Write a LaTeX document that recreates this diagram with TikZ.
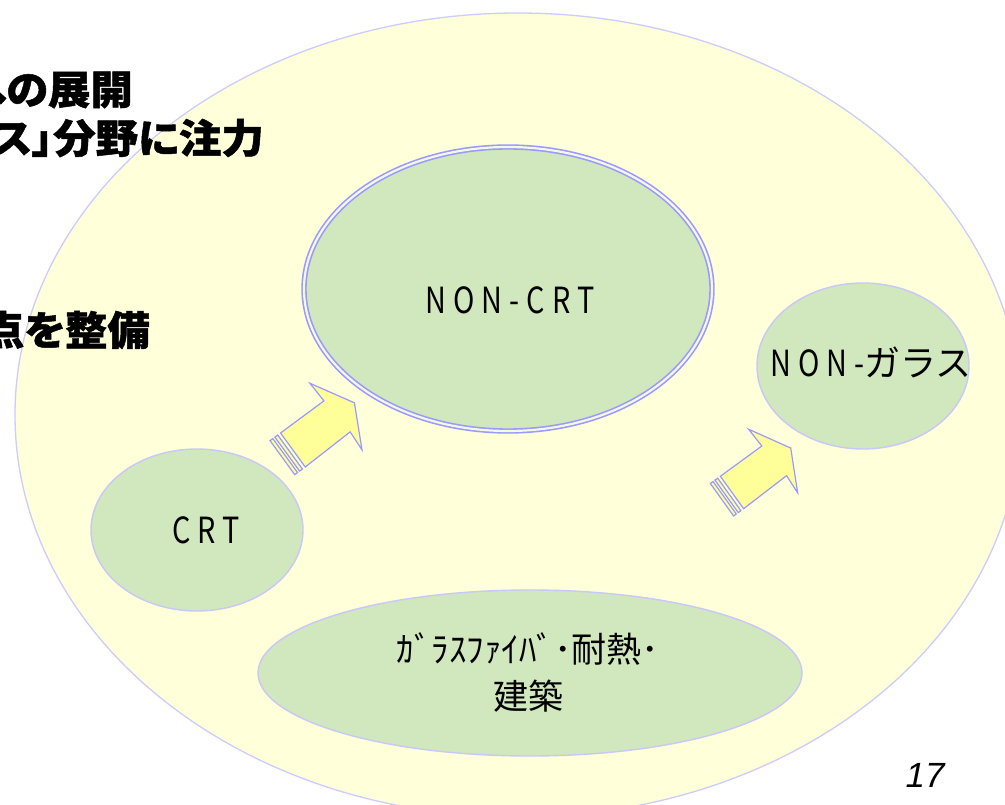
\documentclass[tikz,border=0pt]{standalone}
\usepackage{fontspec}
\usetikzlibrary{shapes.geometric}
\setmainfont{Noto Sans CJK JP}
\newfontfamily\headfont[RawFeature=+palt,FakeStretch=1.06,FakeBold=1.2]{Noto Sans CJK JP}
\newfontfamily\latnfont[FakeStretch=0.8,LetterSpace=20]{Noto Sans CJK JP}
\newfontfamily\jpfont{Noto Sans CJK JP}
\newfontfamily\numfont{Liberation Sans}
\definecolor{bgyellow}{HTML}{FFFFDA}
\definecolor{bigline}{HTML}{CCCCFF}
\definecolor{greenfill}{HTML}{D1E7BD}
\definecolor{greenline}{HTML}{C8C8FA}
\definecolor{arrowfill}{HTML}{FFFF99}
\definecolor{arrowline}{HTML}{9999FF}
\definecolor{gapcol}{HTML}{F4F8E4}
\tikzset{
  bigell/.style={ellipse, inner sep=0pt, draw=bigline, line width=1.3pt, fill=bgyellow},
  greenell/.style={ellipse, inner sep=0pt, draw=greenline, line width=1.4pt, fill=greenfill},
  dblell/.style={ellipse, inner sep=0pt, draw=arrowline, line width=1.6pt, double=gapcol, double distance=2.2pt, fill=greenfill},
  lbl/.style={inner sep=0pt, font=\fontsize{36}{40}\selectfont},
  headtxt/.style={inner sep=0pt, anchor=east, font=\headfont\bfseries\fontsize{40}{47}\selectfont},
  arrowstyle/.style={fill=arrowfill, draw=arrowline, line width=1.2pt, line join=miter},
  pics/blockarrow/.style={code={
    \filldraw[arrowstyle] (-13,-21) rectangle (-9.5,21);
    \filldraw[arrowstyle] (-7,-21) rectangle (-3.5,21);
    \filldraw[arrowstyle] (0,-21) -- (54,-21.5) -- (53,-44) -- (77.5,-2) -- (56,40.5) -- (57,19) -- (0,21) -- cycle;
  }}
}
\begin{document}
\begin{tikzpicture}[x=1pt,y=-1pt]
\useasboundingbox (0,0) rectangle (1005,805);
\fill[white] (0,0) rectangle (1005,805);
% big field
\node[bigell, minimum width=1006pt, minimum height=804pt] (field) at (518,415) {};
% green ellipses
\node[dblell, minimum width=408pt, minimum height=284pt] (noncrt) at (508,289) {};
\node[greenell, minimum width=212pt, minimum height=166pt] (nonglass) at (863,366) {};
\node[greenell, minimum width=212pt, minimum height=162pt] (crt) at (197,530) {};
\node[greenell, minimum width=544pt, minimum height=166pt] (fiber) at (530,673) {};
% labels
\node[lbl] (noncrtlbl) at (510,300) {\latnfont NON-CRT};
\node[lbl] (nonglasslbl) at (871,362) {\latnfont NON-\jpfont ガラス};
\node[lbl] (crtlbl) at (206,530) {\latnfont CRT};
\node[inner sep=0pt, align=center, font=\jpfont\fontsize{35}{47}\selectfont] (fiberlbl) at (528,673) {ｶﾞﾗｽﾌｧｲﾊﾞ･耐熱･\\建築};
% block arrows
\pic[rotate=36] (arrowa) at (292.9,450) {blockarrow};
\pic[rotate=35.6, scale=0.95] (arrowb) at (732,492.5) {blockarrow};
% heading text (cut by the left edge)
\node[headtxt] (h1) at (133,90) {への展開};
\node[headtxt] (h2) at (264,138) {ス」分野に注力};
\node[headtxt] (h3) at (150,330) {点を整備};
% page number
\node[inner sep=0pt, font=\numfont\itshape\fontsize{35}{40}\selectfont] (pagenum) at (925,775.5) {17};
\end{tikzpicture}
\end{document}
